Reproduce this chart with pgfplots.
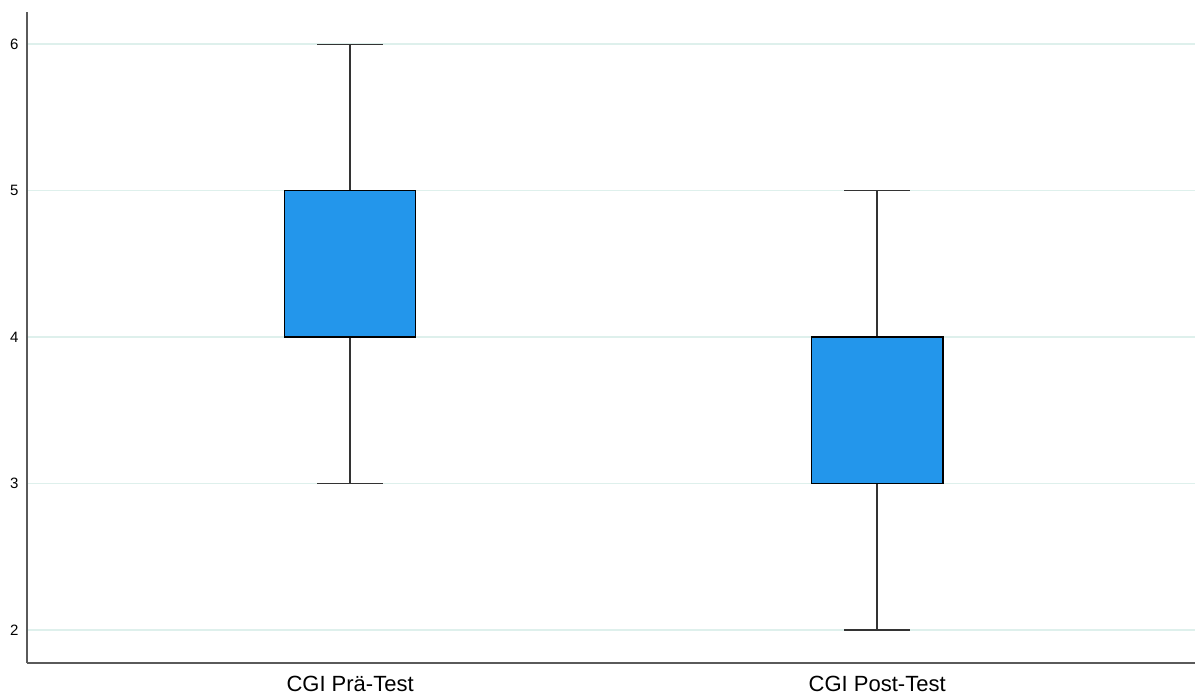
\documentclass[border=0pt]{standalone}
\usepackage{fontspec}
\setmainfont{Liberation Sans}
\usepackage{pgfplots}
\pgfplotsset{compat=1.18}
\usepgfplotslibrary{statistics}
\definecolor{boxblue}{RGB}{35,150,235}
\definecolor{gridc}{RGB}{222,240,236}
\definecolor{axisc}{RGB}{90,90,90}
\begin{document}
\begin{tikzpicture}
\useasboundingbox (0,0) rectangle (1195pt,697pt);
\begin{axis}[
  at={(27pt,34pt)}, anchor=south west,
  scale only axis, width=1168pt, height=651pt,
  xmin=0.387, xmax=2.603, ymin=1.775, ymax=6.22,
  axis lines*=left,
  axis line style={axisc, line width=1.4pt},
  xtick={1,2}, xticklabels={CGI Prä-Test, CGI Post-Test},
  ytick={2,3,4,5,6},
  major tick length=0pt,
  ymajorgrids, grid style={gridc, line width=1.5pt},
  /pgf/number format/assume math mode=true,
  yticklabel style={font=\fontsize{15}{16}\selectfont, xshift=-5pt},
  xticklabel style={font=\fontsize{22}{24}\selectfont, yshift=-10pt},
  boxplot/draw direction=y,
  boxplot/box extend=0.249,
  boxplot/whisker extend=0.125,
  boxplot/every box/.style={draw=black, fill=boxblue, line width=1.5pt},
  boxplot/every whisker/.style={draw=black!80, line width=1.4pt},
  boxplot/every median/.style={draw=black, line width=2.6pt},
]
\addplot[boxplot prepared={draw position=1, lower whisker=3, lower quartile=4, median=4, upper quartile=5, upper whisker=6}] coordinates {};
\addplot[boxplot prepared={draw position=2, lower whisker=2, lower quartile=3, median=4, upper quartile=4, upper whisker=5}] coordinates {};
\end{axis}
\end{tikzpicture}
\end{document}
